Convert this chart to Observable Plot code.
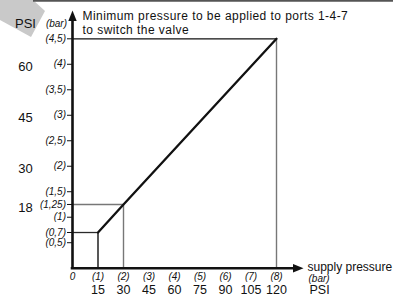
<!DOCTYPE html>
<html>
<head>
<meta charset="utf-8">
<script src="https://cdn.jsdelivr.net/npm/d3@7"></script>
<script src="https://cdn.jsdelivr.net/npm/@observablehq/plot@0.6"></script>
<style>
  html, body { margin: 0; padding: 0; background: #fff; }
  #chart { width: 393px; height: 296px; overflow: hidden; background: #fff; }
</style>
</head>
<body>
<div id="chart"></div>
<script>
// ---- data ----
const titleText = "Minimum pressure to be applied to ports 1-4-7\nto switch the valve";
const xAxisTitle = "supply pressure";
const unitBar = "(bar)";
const unitPsi = "PSI";

// curve: supply pressure (bar) -> minimum pilot pressure (bar)
const supplyBar = [1, 2, 8];
const pilotBar = [0.7, 1.25, 4.5];
const guideHorizColors = ["#2a2a2a", "#777777", "#111111"];
const guideVertColors = ["#111111", "#777777", "#777777"];

// y-axis (bar) ticks
const yBarTicks = [0.5, 0.7, 1, 1.25, 1.5, 2, 2.5, 3, 3.5, 4, 4.5];
// y-axis PSI labels
const yPsiAt = [1.25, 2, 3, 4];
const yPsiLabels = ["18", "30", "45", "60"];
// row of the y unit labels, in bar units
const yUnitRow = 4.8;

// x-axis (bar) ticks
const xBarTicks = [0, 1, 2, 3, 4, 5, 6, 7, 8];
// x-axis PSI labels
const xPsiAt = [1, 2, 3, 4, 5, 6, 7, 8];
const xPsiLabels = ["15", "30", "45", "60", "75", "90", "105", "120"];

// axis arrow tips (bar units)
const xAxisEnd = 9.06;
const yAxisEnd = 5.055;

const fmtBar = d => d === 0 ? "0" : "(" + String(d).replace(".", ",") + ")";
const idx = d3.range(supplyBar.length);

const arrowSymbol = {
  draw(ctx) {
    ctx.moveTo(0, 0);
    ctx.lineTo(-4.2, 10.5);
    ctx.lineTo(4.2, 10.5);
    ctx.closePath();
  }
};

const chart = Plot.plot({
  width: 393,
  height: 296,
  marginLeft: 72,
  marginRight: 117,
  marginTop: 38.3,
  marginBottom: 28.3,
  style: { fontFamily: "'Liberation Sans', Arial, Helvetica, sans-serif", background: "#fff", color: "#111" },
  x: { domain: [0, 8], axis: null },
  y: { domain: [0, 4.5], axis: null },
  color: { type: "identity" },
  marks: [
    // guides
    Plot.ruleY(idx, { y: i => pilotBar[i], x1: 0, x2: i => supplyBar[i], stroke: i => guideHorizColors[i], strokeWidth: 1.3 }),
    Plot.ruleX(idx, { x: i => supplyBar[i], y1: 0, y2: i => pilotBar[i], stroke: i => guideVertColors[i], strokeWidth: 1.4 }),
    // curve
    Plot.line(idx, { x: i => supplyBar[i], y: i => pilotBar[i], stroke: "#111", strokeWidth: 2.3 }),
    // axis lines
    Plot.ruleX([0], { y1: 0, y2: yAxisEnd - 0.15, stroke: "#111", strokeWidth: 2.6 }),
    Plot.ruleY([0], { x1: -0.05, x2: xAxisEnd - 0.3, stroke: "#111", strokeWidth: 2.6 }),
    Plot.dot([0], { x: 0, y: yAxisEnd, symbol: arrowSymbol, fill: "#111", stroke: "none" }),
    Plot.dot([0], { x: xAxisEnd, y: 0, symbol: arrowSymbol, fill: "#111", stroke: "none", rotate: 90 }),
    // axis ticks
    Plot.axisY(yBarTicks, { anchor: "left", tickFormat: fmtBar, tickSize: 5, tickPadding: 1.5, fontSize: 10, fontStyle: "italic", label: null, strokeWidth: 1 }),
    Plot.axisX(xBarTicks, { anchor: "bottom", tickFormat: fmtBar, tickSize: 0, tickPadding: 5, fontSize: 10, fontStyle: "italic", label: null }),
    // PSI labels
    Plot.text(yPsiAt, { y: d => d, text: (d, i) => yPsiLabels[i], frameAnchor: "left", lineAnchor: "middle", dx: -47, dy: 3, fontSize: 13, textAnchor: "middle" }),
    Plot.text(xPsiAt, { x: d => d, text: (d, i) => xPsiLabels[i], frameAnchor: "bottom", lineAnchor: "middle", dy: 21.5, fontSize: 12.5, textAnchor: "middle" }),
    // unit labels left
    Plot.text([unitBar], { y: yUnitRow, frameAnchor: "left", lineAnchor: "middle", dx: -5.5, text: d => d, textAnchor: "end", fontSize: 10, fontStyle: "italic" }),
    Plot.text([unitPsi], { y: yUnitRow, frameAnchor: "left", lineAnchor: "middle", dx: -47, text: d => d, textAnchor: "middle", fontSize: 13 }),
    // unit labels bottom right
    Plot.text([xAxisTitle], { frameAnchor: "bottom-right", lineAnchor: "middle", dx: 31, dy: -1, text: d => d, textAnchor: "start", fontSize: 12 }),
    Plot.text([unitBar], { frameAnchor: "bottom-right", lineAnchor: "middle", dx: 32, dy: 10.5, text: d => d, textAnchor: "start", fontSize: 10, fontStyle: "italic" }),
    Plot.text([unitPsi], { frameAnchor: "bottom-right", lineAnchor: "middle", dx: 33, dy: 21.5, text: d => d, textAnchor: "start", fontSize: 12.5 }),
    // title
    Plot.text([titleText], { frameAnchor: "top-left", dx: 10, dy: -16, text: d => d, textAnchor: "start", lineAnchor: "middle", fontSize: 12, lineHeight: 1.1 })
  ]
});

// decorative corner tab and top rule (drawn beneath the marks)
const svg = d3.select(chart);
const firstG = chart.querySelector("g");
const deco = svg.insert("g", () => firstG);
deco.append("polygon").attr("points", "0,0 33,0 45,11 31,37 0,20").attr("fill", "#c9c9c9");
deco.append("line").attr("x1", 33).attr("x2", 393).attr("y1", 0.8).attr("y2", 0.8).attr("stroke", "#555").attr("stroke-width", 1.8);

// slight letter spacing for the headline
svg.selectAll("text").filter(function () {
  return this.textContent.startsWith("Minimum");
}).attr("letter-spacing", "0.45px");

document.getElementById("chart").appendChild(chart);
</script>
</body>
</html>
